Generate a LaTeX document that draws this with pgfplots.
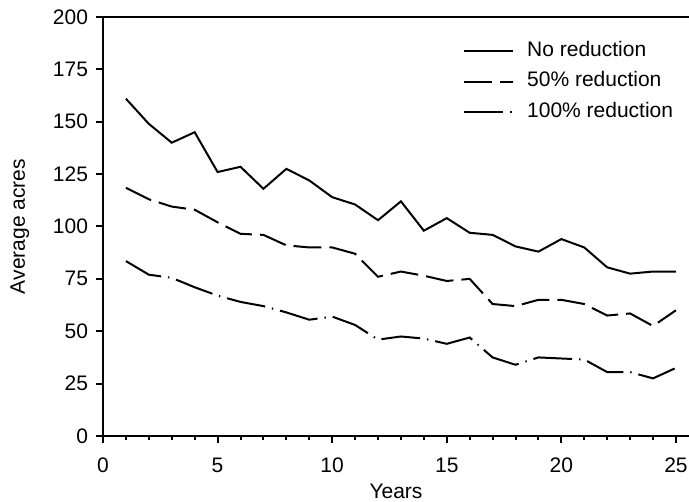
\documentclass[border=0pt]{standalone}
\usepackage{fontspec}
\setmainfont{Liberation Sans}
\usepackage{pgfplots}
\pgfplotsset{compat=1.18}

\newcommand{\chartfont}{\fontsize{10.5bp}{12.5bp}\selectfont}

\begin{document}
\begin{tikzpicture}[font=\chartfont]
\begin{axis}[
  scale only axis,
  width=293bp, height=209.5bp,
  xmin=0, xmax=25.57, ymin=0, ymax=200,
  axis lines=left,
  axis line style={-, line width=1bp},
  xtick={0,5,...,25}, minor x tick num=4,
  ytick={0,25,...,200},
  tick align=outside,
  major tick length=3.5bp, minor tick length=2bp,
  every tick/.style={black, line width=1bp},
  /pgf/number format/assume math mode=true,
  tick label style={font=\chartfont},
  xticklabel style={yshift=-4bp},
  yticklabel style={xshift=-0.5bp},
  xlabel={Years}, ylabel={Average acres},
  label style={font=\chartfont},
  xlabel style={yshift=1.5bp},
  ylabel style={yshift=5bp},
  legend style={at={(rel axis cs:0.614,0.945)}, anchor=north west,
    draw=none, fill=none, font=\chartfont,
    inner sep=0pt, row sep=5.1bp, column sep=6.5bp,
    nodes={inner sep=0pt, text height=7.8bp, text depth=2.5bp}},
  legend cell align=left,
  legend image code/.code={\draw[#1] (0bp,0bp) -- (24.5bp,0bp);},
]
\coordinate (O) at (rel axis cs:0,0);
\addplot[black, line width=1bp] coordinates {
  (1,161) (2,149) (3,140) (4,145) (5,126) (6,128.5) (7,118) (8,127.5)
  (9,122) (10,114) (11,110.5) (12,103) (13,112) (14,98) (15,104)
  (16,97) (17,96) (18,90.5) (19,88) (20,94) (21,90) (22,80.5)
  (23,77.5) (24,78.5) (25,78.5)
};
\addlegendentry{No reduction}
\addplot[black, line width=1bp, dash pattern=on 14bp off 4bp] coordinates {
  (1,118.5) (2,113) (3,109.5) (4,108) (5,102) (6,96.5) (7,96) (8,91)
  (9,90) (10,90) (11,87) (12,76) (13,78.5) (14,76.5) (15,74) (16,75)
  (17,63) (18,62) (19,65) (20,65) (21,63) (22,57.5) (23,58.5)
  (24,52.5) (25,60)
};
\addlegendentry{50\% reduction}
\addplot[black, line width=1bp,
  dash pattern=on 19.5bp off 3.5bp on 0.7bp off 3.5bp] coordinates {
  (1,83.5) (2,77) (3,75.5) (4,71) (5,67) (6,64) (7,62) (8,59) (9,55.5)
  (10,57) (11,53) (12,46) (13,47.5) (14,46.5) (15,44) (16,47) (17,37.5)
  (18,34) (19,37.5) (20,37) (21,36.5) (22,30.5) (23,30.5) (24,27.5)
  (25,32.5)
};
\addlegendentry{100\% reduction}
\draw[line width=1bp] (rel axis cs:0,1) ++(-3bp,0) -- (rel axis cs:1,1);
\end{axis}
\pgfresetboundingbox
\path[use as bounding box] (O) ++(-51.5bp,-33bp) rectangle ++(344.5bp,251bp);
\end{tikzpicture}
\end{document}
